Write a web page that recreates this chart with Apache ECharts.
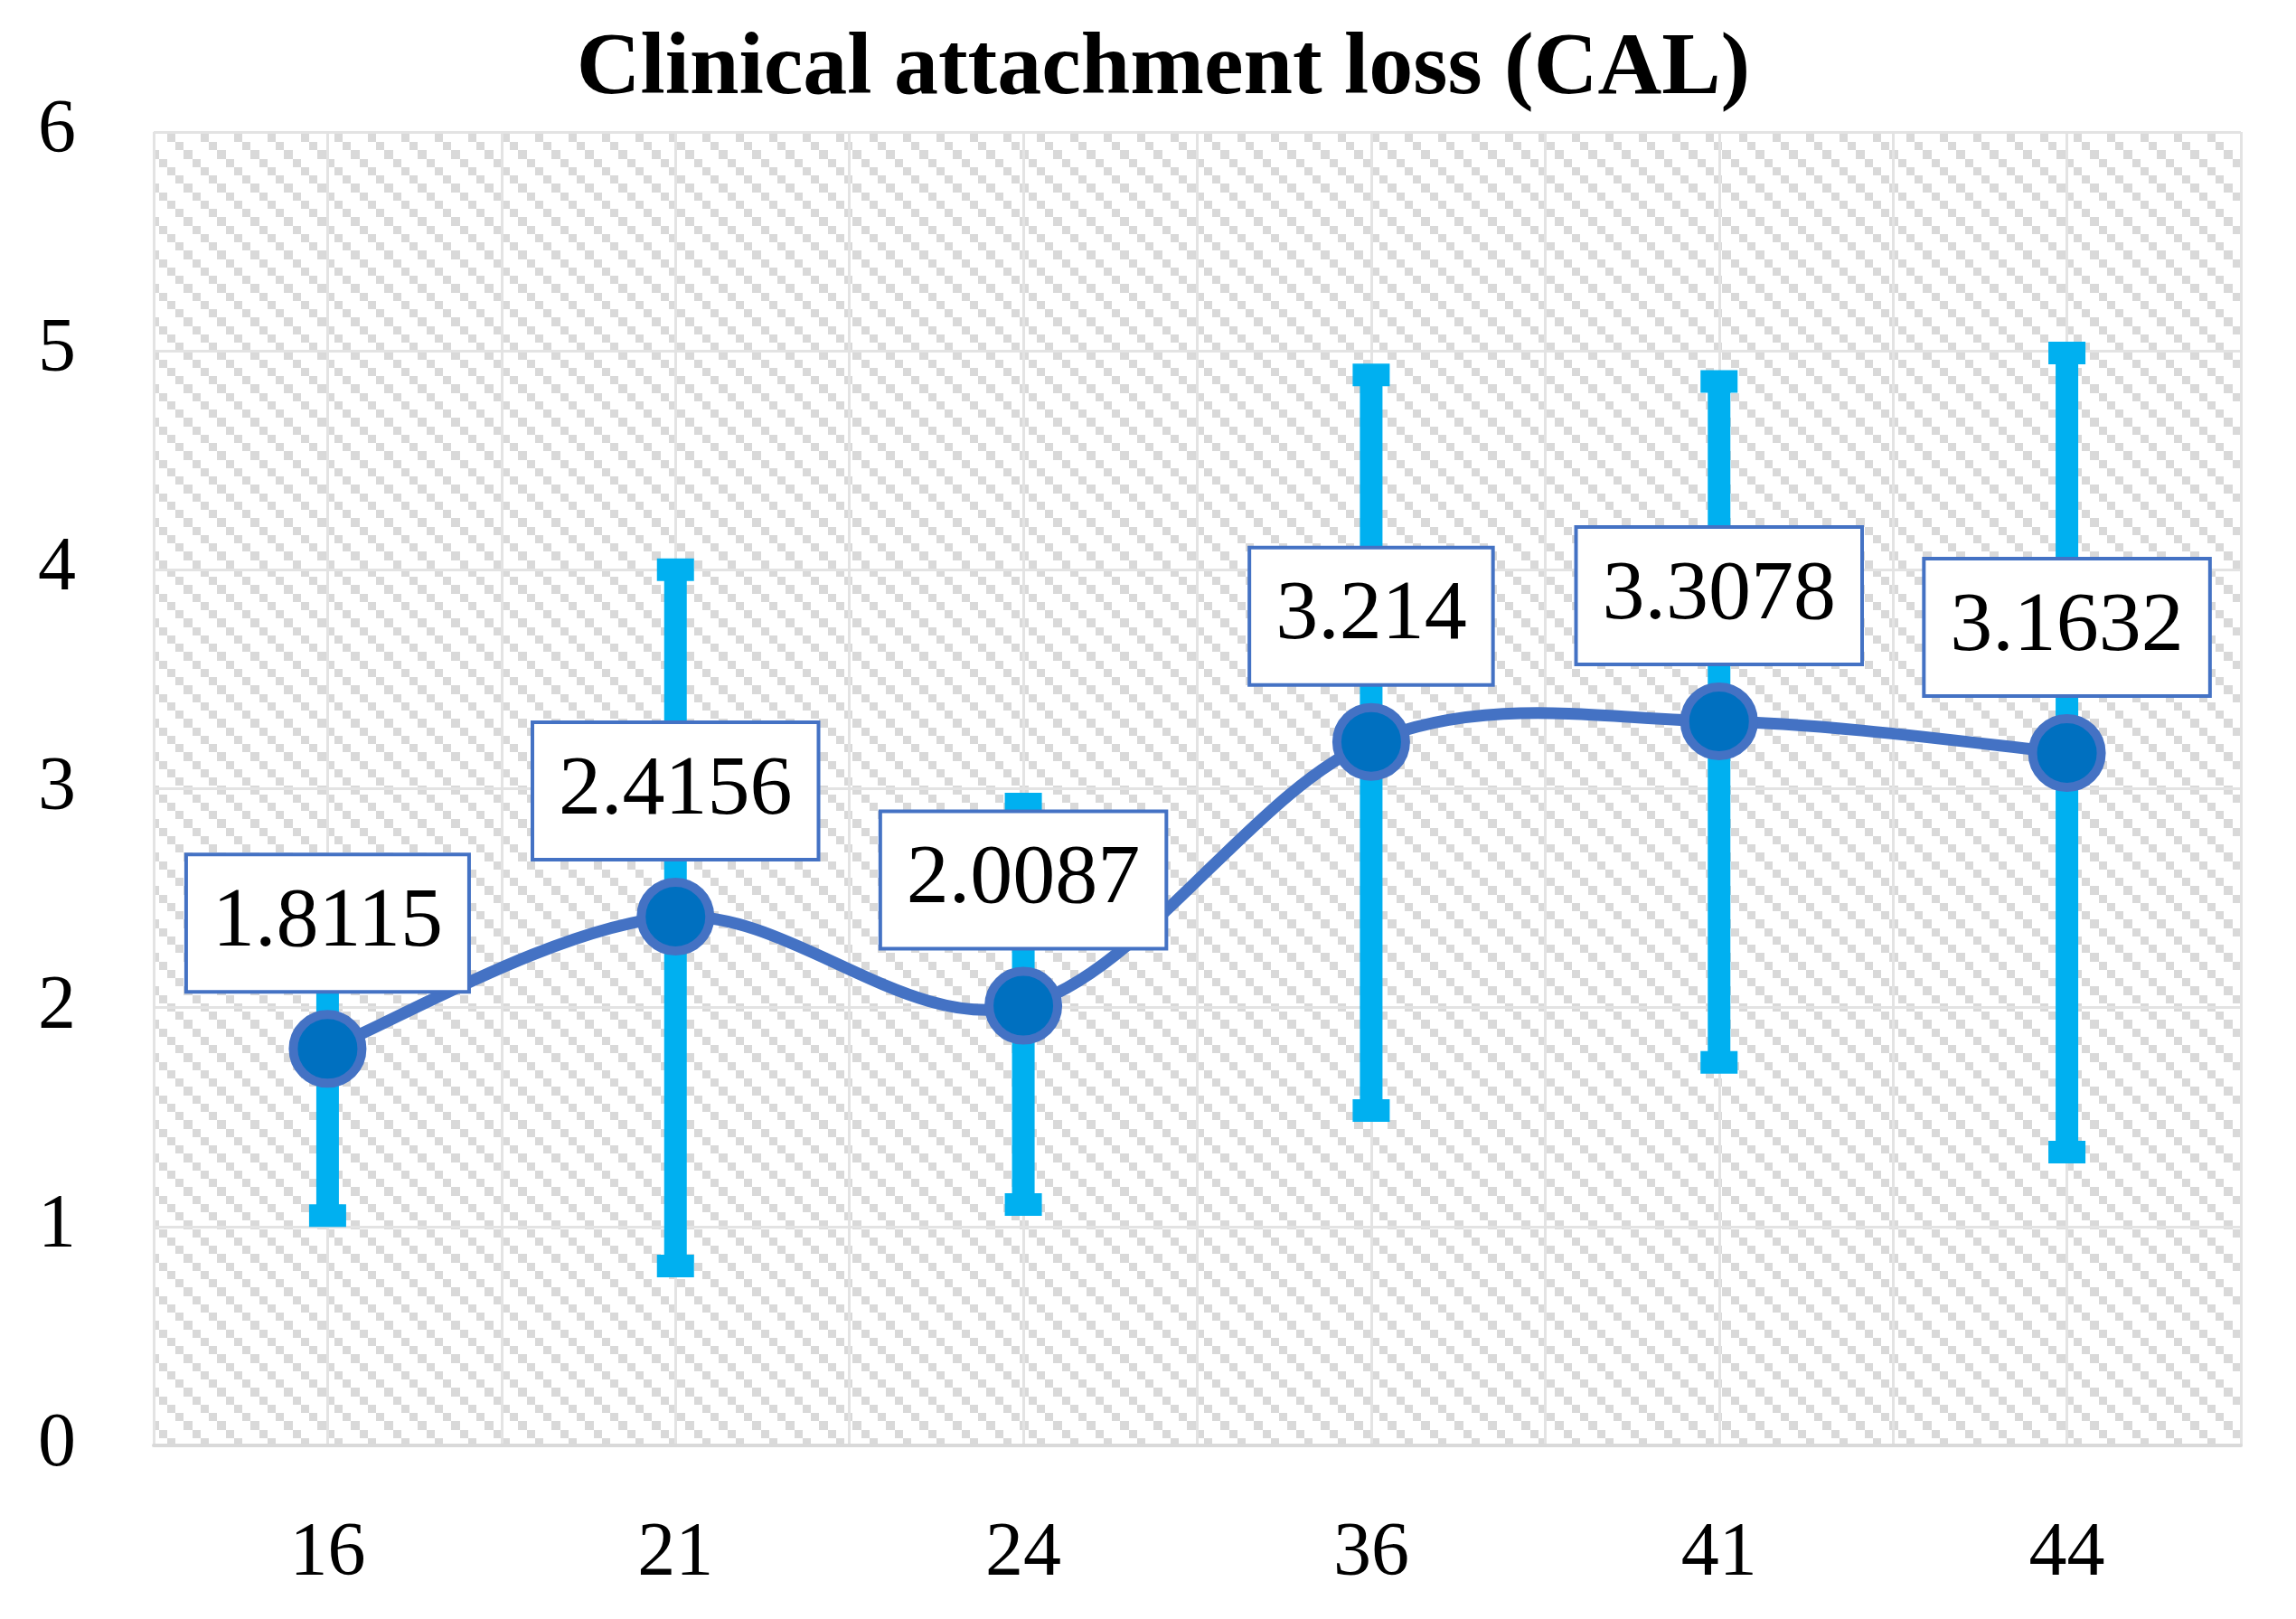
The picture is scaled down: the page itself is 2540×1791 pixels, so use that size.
<!DOCTYPE html>
<html>
<head>
<meta charset="utf-8">
<script src="https://cdn.jsdelivr.net/npm/echarts@6/dist/echarts.min.js"></script>
<style>
  html, body { margin: 0; padding: 0; background: #fff; }
  #chart { width: 2540px; height: 1791px; }
</style>
</head>
<body>
<div id="chart"></div>
<script>
const titleText = 'Clinical attachment loss (CAL)';
const categories = ['16', '21', '24', '36', '41', '44'];
const meanValues = [1.8115, 2.4156, 2.0087, 3.214, 3.3078, 3.1632];
const errLow = [1.05, 0.82, 1.10, 1.53, 1.75, 1.34];
const errHigh = [2.57, 4.00, 2.93, 4.89, 4.86, 4.99];
const yTicks = [0, 1, 2, 3, 4, 5, 6];

// hatch pattern (wide downward diagonal)
function makePattern() {
  const c = document.createElement('canvas');
  c.width = 37; c.height = 37;
  const ctx = c.getContext('2d');
  ctx.fillStyle = '#ffffff';
  ctx.fillRect(0, 0, 37, 37);
  ctx.fillStyle = '#d9d9d9';
  const pos = [0, 9, 18, 28, 37];
  for (let r = 0; r < 4; r++) {
    const col = r;
    ctx.fillRect(pos[col], pos[r], pos[col + 1] - pos[col], pos[r + 1] - pos[r]);
  }
  return c;
}

const chart = echarts.init(document.getElementById('chart'), null, { renderer: 'canvas' });
const serif = '"Liberation Serif", "DejaVu Serif", serif';
const n = meanValues.length;

chart.setOption({
  animation: false,
  backgroundColor: '#ffffff',
  title: {
    text: titleText,
    left: 1282,
    textAlign: 'center',
    top: 24,
    textStyle: { fontFamily: serif, fontWeight: 'bold', fontSize: 98, color: '#000' }
  },
  grid: {
    left: 170, right: 61, top: 146, bottom: 192,
    show: true,
    borderWidth: 0,
    backgroundColor: { image: makePattern(), repeat: 'repeat' }
  },
  xAxis: [
    {
      type: 'category',
      data: categories,
      boundaryGap: true,
      axisLine: { show: true, lineStyle: { color: '#d9d9d9', width: 4 } },
      axisTick: { show: false },
      splitLine: { show: false },
      axisLabel: { fontSize: 84, fontFamily: serif, color: '#000', margin: 79 }
    },
    {
      type: 'value',
      min: 0, max: 12, interval: 1,
      position: 'top',
      axisLine: { show: false },
      axisTick: { show: false },
      axisLabel: { show: false },
      splitLine: { show: true, lineStyle: { color: '#e3e3e3', width: 3 } }
    }
  ],
  yAxis: {
    type: 'value',
    min: yTicks[0], max: yTicks[yTicks.length - 1], interval: 1,
    axisLine: { show: false },
    axisTick: { show: false },
    axisLabel: { fontSize: 84, fontFamily: serif, color: '#000', margin: 86 },
    splitLine: { show: true, lineStyle: { color: '#e3e3e3', width: 3 } }
  },
  series: [
    {
      type: 'custom',
      xAxisIndex: 0,
      yAxisIndex: 0,
      z: 2,
      data: categories.map((c, i) => [i, errLow[i], errHigh[i]]),
      renderItem: function (params, api) {
        const x = api.value(0);
        const pHi = api.coord([x, api.value(2)]);
        const pLo = api.coord([x, api.value(1)]);
        const bw = 25, cw = 41, ch = 25;
        const fill = '#00b0f0';
        return {
          type: 'group',
          children: [
            { type: 'rect', shape: { x: pHi[0] - bw / 2, y: pHi[1], width: bw, height: pLo[1] - pHi[1] }, style: { fill: fill } },
            { type: 'rect', shape: { x: pHi[0] - cw / 2, y: pHi[1] - ch / 2, width: cw, height: ch }, style: { fill: fill } },
            { type: 'rect', shape: { x: pLo[0] - cw / 2, y: pLo[1] - ch / 2, width: cw, height: ch }, style: { fill: fill } }
          ]
        };
      }
    },
    {
      // smoothed connecting curve (Catmull-Rom style, like the spreadsheet's smoothing)
      type: 'custom',
      xAxisIndex: 0,
      yAxisIndex: 0,
      z: 3,
      data: meanValues.slice(0, n - 1).map((v, i) => [i, v]),
      renderItem: function (params, api) {
        const i = api.value(0);
        const P = (k) => api.coord([Math.max(0, Math.min(n - 1, k)), meanValues[Math.max(0, Math.min(n - 1, k))]]);
        const p0 = P(i - 1), p1 = P(i), p2 = P(i + 1), p3 = P(i + 2);
        const t = 1 / 6;
        return {
          type: 'bezierCurve',
          shape: {
            x1: p1[0], y1: p1[1],
            x2: p2[0], y2: p2[1],
            cpx1: p1[0] + (p2[0] - p0[0]) * t, cpy1: p1[1] + (p2[1] - p0[1]) * t,
            cpx2: p2[0] - (p3[0] - p1[0]) * t, cpy2: p2[1] - (p3[1] - p1[1]) * t
          },
          style: { stroke: '#4472c4', lineWidth: 13, fill: null, lineCap: 'round' }
        };
      }
    },
    {
      type: 'line',
      xAxisIndex: 0,
      yAxisIndex: 0,
      z: 4,
      data: meanValues,
      symbol: 'circle',
      symbolSize: 76,
      itemStyle: { color: '#0070c0', borderColor: '#4472c4', borderWidth: 10 },
      lineStyle: { width: 0, opacity: 0 },
      label: {
        show: true,
        position: 'top',
        distance: 22,
        formatter: function (p) { return String(meanValues[p.dataIndex]); },
        fontFamily: serif,
        fontSize: 94,
        lineHeight: 100,
        color: '#000',
        backgroundColor: '#ffffff',
        borderColor: '#4472c4',
        borderWidth: 4,
        padding: [24, 27]
      }
    }
  ]
});
</script>
</body>
</html>
